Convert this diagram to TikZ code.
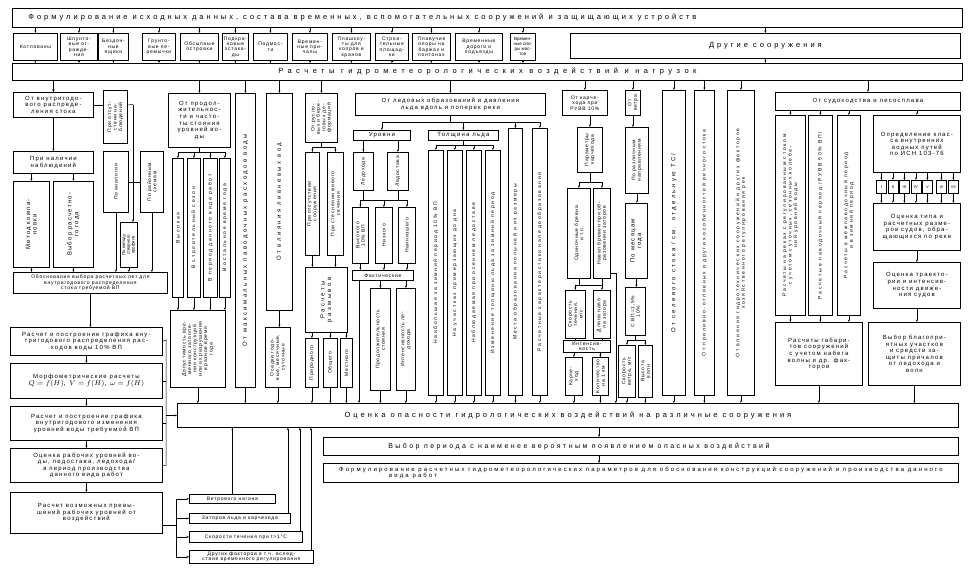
\documentclass[tikz,border=0pt]{standalone}
\usepackage{fontspec}
\setmainfont{Liberation Sans}
\usetikzlibrary{arrows.meta}

\begin{document}
\begin{tikzpicture}[x=1pt, y=-1pt,
  box/.style={draw, line width=0.8pt, inner sep=0.5pt, align=center, font=\fontsize{5}{5.4}\selectfont\addfontfeature{LetterSpace=15}},
  hbx/.style={box, anchor=north west},
  vbox/.style={box, rotate=90, anchor=north east},
  big/.style={font=\fontsize{6}{6.6}\selectfont\addfontfeature{LetterSpace=20}},
  tall/.style={font=\fontsize{5}{5.5}\selectfont\addfontfeature{LetterSpace=35}},
  tallbig/.style={font=\fontsize{6}{6.6}\selectfont\addfontfeature{LetterSpace=40}},
  wide/.style={hbx, font=\fontsize{7.5}{8.5}\selectfont\addfontfeature{LetterSpace=40}},
  arr/.style={-{Stealth[length=2.5pt,width=2pt]}, line width=0.5pt},
  ln/.style={line width=0.5pt}]
\useasboundingbox (0,0) rectangle (970,570);

% heading rows
\node[wide, minimum width=950, minimum height=19] (top) at (12,8) {Формулирование исходных данных, состава временных, вспомогательных сооружений и защищающих устройств\hspace*{250pt}};
\node[hbx, minimum width=44, minimum height=27] (kotl) at (13,33) {Котлованы};
\node[hbx, minimum width=37, minimum height=27] (shpun) at (60,33) {Шпунто-\\вые ог-\\ражде-\\ния};
\node[hbx, minimum width=30, minimum height=27] (bezd) at (98,33) {Бездон-\\ные\\ящики};
\node[hbx, minimum width=33, minimum height=27] (grun) at (142,33) {Грунто-\\вые пе-\\ремычки};
\node[hbx, minimum width=38, minimum height=27] (ostr) at (180,33) {Обсыпные\\островки};
\node[hbx, minimum width=26, minimum height=27] (estak) at (222,33) {Подкра-\\новые\\эстака-\\ды};
\node[hbx, minimum width=34, minimum height=27] (podm) at (253,33) {Подмос-\\ти};
\node[hbx, minimum width=35, minimum height=27] (prich) at (292,33) {Времен-\\ные при-\\чалы};
\node[hbx, minimum width=38, minimum height=27] (plash) at (332,33) {Плашкоу-\\ты для\\копров и\\кранов};
\node[hbx, minimum width=33, minimum height=27] (plosh) at (375,33) {Строи-\\тельные\\площад-\\ки};
\node[hbx, minimum width=38, minimum height=27] (plav) at (412,33) {Плавучие\\опоры на\\баржах и\\понтонах};
\node[hbx, minimum width=47, minimum height=27] (dorog) at (455,33) {Временные\\дороги и\\подъезды};
\node[hbx, minimum width=25, minimum height=27, font=\fontsize{4.5}{5}\selectfont] (most) at (510,33) {Времен-\\ные опо-\\ры мос-\\тов};
\node[wide, minimum width=390, minimum height=25] (drug) at (570,33) {Другие сооружения};
\node[wide, font=\fontsize{7.5}{8.5}\selectfont\addfontfeature{LetterSpace=60}, minimum width=950, minimum height=17] (rasch) at (12,63) {Расчеты гидрометеорологических воздействий и нагрузок};
\foreach \n in {kotl,shpun,bezd,grun,ostr,estak,podm,prich,plash,plosh,plav,dorog,most,drug} {
  \draw[arr] (top.south -| \n.north) -- (\n.north);
  \draw[arr] (\n.south) -- (\n.south |- rasch.north);
}

% left column
\node[hbx, big, minimum width=80, minimum height=25] (vnutr) at (13,92) {От внутригодо-\\вого распреде-\\ления стока};
\node[vbox, minimum width=53, minimum height=24] (otsut) at (103,90) {При отсут-\\ствии на-\\блюдений};
\node[hbx, big, minimum width=80, minimum height=22] (nalich) at (13,151) {При наличии\\наблюдений};
\node[vbox, big, minimum width=86, minimum height=36] (komp) at (13,181) {Метод компа-\\новки};
\node[vbox, big, minimum width=86, minimum height=40] (vybgod) at (53,181) {Выбор расчетно-\\го года};
\node[vbox, minimum width=61, minimum height=25] (analog) at (103,151) {По аналогии};
\node[vbox, minimum width=61, minimum height=23] (rayon) at (140,151) {По районным\\схемам};
\node[vbox, minimum width=45, minimum height=17, font=\fontsize{4.3}{4.8}\selectfont] (stvor) at (120,222) {По методу\\створного\\профиля};
\node[hbx, minimum width=154, minimum height=21] (obosn) at (13,272) {Обоснование выбора расчетных лет для\\внутригодового распределения\\стока требуемой ВП};
\node[hbx, big, minimum width=152, minimum height=28] (graf1) at (10,327) {Расчет и построение графика вну-\\тригодового распределения рас-\\ходов воды 10\% ВП};
\node[hbx, big, minimum width=152, minimum height=35] (morf) at (10,363) {Морфометрические расчеты\\{\fontsize{7.5}{9}\selectfont $Q=f(H)$, $V=f(H)$, $\omega=f(H)$}};
\node[hbx, big, minimum width=152, minimum height=34] (graf2) at (10,406) {Расчет и построение графика\\внутригодового изменения\\уровней воды требуемой ВП};
\node[hbx, big, minimum width=152, minimum height=34] (rabur) at (10,448) {Оценка рабочих уровней во-\\ды, ледостава, ледохода/\\в период производства\\данного вида работ};
\node[hbx, big, minimum width=152, minimum height=41] (prev) at (10,492) {Расчет возможных превы-\\шений рабочих уровней от\\воздействий};
\draw[arr] (rasch.south -| vnutr.north) -- (vnutr.north);
\draw[arr] (vnutr.south) -- (nalich.north);
\coordinate (br) at (133,104.5);
\draw[ln] (vnutr.east) -- (vnutr.east -| otsut.north);
\draw[ln] (vnutr.east -| otsut.south) -- (br);
\draw[arr] (br) -- (br |- stvor.east);
\draw[ln] (analog.south) -- (rayon.north);
\draw[arr] (nalich.south -| komp.east) -- (komp.east);
\draw[arr] (nalich.south -| vybgod.east) -- (vybgod.east);
\foreach \n in {komp,vybgod,analog,rayon,stvor}
  \draw[arr] (\n.west) -- (\n.west |- obosn.north);
\draw[arr] (obosn.south) -- (obosn.south |- graf1.north);
\draw[arr] (graf1.south) -- (morf.north);
\draw[arr] (morf.south) -- (graf2.north);
\draw[arr] (graf2.south) -- (rabur.north);
\draw[arr] (rabur.south) -- (prev.north);

% middle columns
\node[hbx, big, minimum width=62, minimum height=54] (prod) at (168,93) {От продол-\\жительнос-\\ти и часто-\\ты стояния\\уровней во-\\ды};
\node[vbox, tall, minimum width=139, minimum height=11] (vys) at (172,158) {Высокая};
\node[vbox, tall, minimum width=139, minimum height=13] (strs) at (187,158) {В строительный сезон};
\node[vbox, tall, minimum width=139, minimum height=14] (perr) at (203,158) {В период данного вида работ};
\node[vbox, tall, minimum width=139, minimum height=11] (ostv) at (219,158) {В остальное время года};
\node[vbox, minimum width=77, minimum height=55] (dopus) at (170,310) {Допустимость вре-\\менного затопле-\\ния конструкций\\или их разрушения\\в разное время\\года};
\node[vbox, tallbig, minimum width=294, minimum height=20] (pavod) at (235,93) {От максимальных паводочных расходов воды};
\node[vbox, tallbig, minimum width=217, minimum height=26] (livn) at (266,93) {От влияния ливневых вод};
\node[vbox, minimum width=60, minimum height=25] (osad) at (265,327) {Осадки годо-\\вые, месячные,\\суточные};
\node[vbox, minimum width=49, minimum height=32] (rusl) at (305,93) {От русло-\\вых и бере-\\говых де-\\формаций};
\node[vbox, minimum width=103, minimum height=14] (bezs) at (305,152) {При отсутствии\\сооружения};
\node[vbox, minimum width=103, minimum height=16] (stes) at (327,152) {При стеснении живого\\сечения};
\node[vbox, tallbig, minimum width=65, minimum height=42] (razm) at (305,267) {Расчеты\\размывов};
\node[vbox, minimum width=49, minimum height=13] (prir) at (305,338) {Природного};
\node[vbox, minimum width=49, minimum height=14] (obsh) at (323,338) {Общего};
\node[vbox, minimum width=49, minimum height=12] (mest) at (340,338) {Местного};
\path ([yshift=6pt]vys.east) coordinate (s1) ([yshift=6pt]ostv.east) coordinate (s2);
\draw[ln] (prod.south) -- (prod.south |- s1);
\draw[ln] (s1) -- (s2);
\foreach \n in {vys,strs,perr,ostv} {
  \draw[arr] (s1 -| \n.east) -- (\n.east);
  \draw[arr] (\n.west) -- (\n.west |- dopus.east);
}
\draw[arr] (livn.west) -- (livn.west |- osad.east);
\path ([yshift=5pt]bezs.east) coordinate (s3);
\draw[ln] (rusl.west) -- (rusl.west |- s3);
\draw[ln] (s3) -- (s3 -| stes.east);
\foreach \n in {bezs,stes} {
  \draw[arr] (s3 -| \n.east) -- (\n.east);
  \draw[arr] (\n.west) -- (\n.west |- razm.east);
}
\foreach \n in {prir,obsh,mest}
  \draw[arr] (razm.west -| \n.east) -- (\n.east);

% ice
\node[hbx, big, minimum width=190, minimum height=22] (led) at (355,93) {От ледовых образований и давления\\льда вдоль и поперек реки};
\node[hbx, big, minimum width=57, minimum height=10] (urov) at (353,130) {Уровни};
\node[hbx, big, minimum width=70, minimum height=10] (tol) at (428,130) {Толщина льда};
\node[vbox, tall, minimum width=267, minimum height=14] (polyn) at (508,128) {Места образования полыней и их размеры};
\node[vbox, tall, minimum width=267, minimum height=15] (naled) at (532,128) {Расчетные характеристики наледеобразования};
\node[vbox, minimum width=38, minimum height=20] (ledh) at (353,152) {Ледохода};
\node[vbox, minimum width=38, minimum height=21] (ledst) at (387,152) {Ледостава};
\node[vbox, minimum width=56, minimum height=16] (vysok) at (352,207) {Высокого\\10\% ВП};
\node[vbox, minimum width=56, minimum height=17] (nizk) at (375,207) {Низкого};
\node[vbox, minimum width=56, minimum height=17] (nainiz) at (398,207) {Наинизшего};
\node[hbx, minimum width=61, minimum height=10] (fakt) at (352,270) {Фактические};
\node[vbox, minimum width=102, minimum height=20] (prodst) at (370,288) {Продолжительность\\стояния};
\node[vbox, minimum width=102, minimum height=19] (intled) at (396,288) {Интенсивность ле-\\дохода};
\node[vbox, tall, minimum width=245, minimum height=15] (naib) at (428,150) {Наибольшая за зимний период 10\% ВП};
\node[vbox, tall, minimum width=245, minimum height=15] (uchast) at (447,150) {На участках промерзающих до дна};
\node[vbox, tall, minimum width=245, minimum height=15] (nabl) at (466,150) {Наблюдаемая при осеннем ледоставе};
\node[vbox, tall, minimum width=245, minimum height=15] (izm) at (485,150) {Изменение толщины льда за зимний период};
\path ([yshift=8pt]urov.north) coordinate (s5);
\draw[ln] (led.south) -- (led.south |- s5);
\draw[ln] (s5) -- (s5 -| naled.east);
\draw[arr] (s5) -- (urov.north);
\draw[arr] (s5 -| tol.north) -- (tol.north);
\draw[arr] (s5 -| polyn.east) -- (polyn.east);
\draw[arr] (s5 -| naled.east) -- (naled.east);
\draw[arr] (urov.south -| ledh.east) -- (ledh.east);
\draw[arr] (urov.south -| ledst.east) -- (ledst.east);
\path ([yshift=7pt]vysok.east) coordinate (s6);
\draw[ln] (ledh.west) -- (ledh.west |- s6);
\draw[ln] (ledst.west) -- (ledst.west |- s6);
\draw[ln] (s6) -- (s6 -| nainiz.east);
\foreach \n in {vysok,nizk,nainiz} {
  \draw[arr] (s6 -| \n.east) -- (\n.east);
  \draw[arr] (\n.west) -- (\n.west |- fakt.north);
}
\draw[arr] (fakt.south -| prodst.east) -- (prodst.east);
\draw[arr] (fakt.south -| intled.east) -- (intled.east);
\path ([yshift=5pt]naib.east) coordinate (s7);
\draw[ln] (tol.south) -- (tol.south |- s7);
\draw[ln] (s7) -- (s7 -| izm.east);
\foreach \n in {naib,uchast,nabl,izm}
  \draw[arr] (s7 -| \n.east) -- (\n.east);

% drift wood, wind
\node[hbx, minimum width=45, minimum height=25] (karch) at (562,90) {От карче-\\хода при\\РУВВ 10\%};
\node[vbox, minimum width=45, minimum height=25] (parkar) at (577,127) {Параметры\\карчехода};
\node[vbox, minimum width=90, minimum height=23] (odin) at (567,188) {Одиночные бревна\\и т.п.};
\node[vbox, minimum width=90, minimum height=17] (naval) at (593,188) {Навал бревен при об-\\разовании заторов};
\node[vbox, minimum width=48, minimum height=20] (skort) at (565,290) {Скорость\\течения,\\м/с};
\node[vbox, minimum width=48, minimum height=17] (dlin) at (593,290) {Длина нава-\\ла затора};
\node[hbx, minimum width=47, minimum height=12] (intkar) at (563,340) {Интенсив-\\ность};
\node[vbox, minimum width=38, minimum height=17] (karv) at (565,357) {Карче-\\ход};
\node[vbox, minimum width=38, minimum height=16] (kol) at (592,357) {Количество\\на 1 км};
\draw[arr] (karch.south -| parkar.east) -- (parkar.east);
\path ([yshift=6pt]odin.east) coordinate (s8);
\draw[ln] (parkar.west) -- (parkar.west |- s8);
\draw[ln] (s8) -- (s8 -| naval.east);
\draw[arr] (s8) -- (odin.east);
\draw[arr] (s8 -| naval.east) -- (naval.east);
\path ([yshift=5pt]skort.east) coordinate (s9);
\draw[ln] (odin.west) -- (odin.west |- s9);
\draw[ln] (naval.west) -- (naval.west |- s9);
\draw[ln] (s9) -- (s9 -| dlin.east);
\draw[arr] (s9) -- (skort.east);
\draw[arr] (s9 -| dlin.east) -- (dlin.east);
\draw[ln] (skort.west) -- (skort.west |- intkar.north);
\draw[ln] (dlin.west) -- (dlin.west |- intkar.north);
\draw[arr] (intkar.south -| karv.east) -- (karv.east);
\draw[arr] (intkar.south -| kol.east) -- (kol.east);
\path ([xshift=5pt]naval.south west) coordinate (s10);
\node[vbox, minimum width=25, minimum height=15] (veter) at (625,90) {От\\ветра};
\node[vbox, minimum width=66, minimum height=23] (napr) at (625,127) {По различным\\направлениям};
\node[vbox, big, minimum width=75, minimum height=22] (mes) at (625,203) {По месяцам\\года};
\node[vbox, minimum width=48, minimum height=20] (vp) at (625,287) {С ВП=1,5\%\\10\%};
\node[vbox, minimum width=52, minimum height=17] (skv) at (618,345) {Скорость\\ветра, м/с};
\node[vbox, minimum width=52, minimum height=14] (vyv) at (638,345) {Высота\\волн};
\draw[arr] (veter.west) -- (veter.west |- napr.east);
\draw[arr] (napr.west) -- (napr.west |- mes.east);
\draw[arr] (mes.west) -- (mes.west |- vp.east);
\path ([yshift=5pt]skv.east) coordinate (s11);
\draw[ln] (vp.west) -- (vp.west |- s11);
\draw[ln] (s11) -- (s11 -| vyv.east);
\draw[arr] (s11) -- (skv.east);
\draw[arr] (s11 -| vyv.east) -- (vyv.east);
\node[vbox, tallbig, minimum width=305, minimum height=23] (sel) at (662,90) {От селевого стока /см. отдельную ТС/};
\node[vbox, tall, minimum width=305, minimum height=20] (prili) at (694,90) {От приливно-отливных и других особенностей речного стока};
\node[vbox, tall, minimum width=305, minimum height=27] (gidr) at (727,90) {От влияния гидротехнических сооружений и других факторов\\хозяйственного регулирования рек};

% navigation
\node[hbx, big, minimum width=185, minimum height=18] (sud) at (775,92) {От судоходства и лесосплава};
\node[vbox, tall, minimum width=200, minimum height=30] (regst) at (775,115) {Расчеты на реках с регулированным стоком\\с учетом суточных, сезонных колеба-\\ний уровней воды};
\node[vbox, tall, minimum width=200, minimum height=24] (pavp) at (808,115) {Расчеты в паводочный период /РУВВ 50\% ВП/};
\node[vbox, tall, minimum width=200, minimum height=23] (mezh) at (837,115) {Расчеты в межпаводочный период\\и в зимний период};
\node[hbx, big, minimum width=87, minimum height=57] (klass) at (873,115) {Определение клас-\\са внутренних\\водных путей\\по ИСН 103-76};
\node[hbx, big, minimum width=87, minimum height=47] (tip) at (873,203) {Оценка типа и\\расчетных разме-\\ров судов, обра-\\щающихся по реке};
\node[hbx, big, minimum width=87, minimum height=46] (traek) at (873,262) {Оценка траекто-\\рии и интенсив-\\ности движе-\\ния судов};
\node[hbx, big, minimum width=87, minimum height=63] (gabar) at (775,322) {Расчеты габари-\\тов сооружений\\с учетом набега\\волны и др. фак-\\торов};
\node[hbx, big, minimum width=92, minimum height=63] (blag) at (868,322) {Выбор благопри-\\ятных участков\\и средств за-\\щиты причалов\\от ледохода и\\волн};
\foreach \i/\t/\x in {1/I/876,2/II/887.5,3/III/899,4/IV/910.5,5/V/922,6/VI/936,7/VII/948} {
  \node[hbx, minimum width=10, minimum height=13, font=\fontsize{4}{4}\selectfont] (cl\i) at (\x,180) {\t};
  \draw[arr] (klass.south -| cl\i.north) -- (cl\i.north);
  \draw[arr] (cl\i.south) -- (cl\i.south |- tip.north);
}
\foreach \n in {regst,pavp,mezh} {
  \draw[arr] (sud.south -| \n.east) -- (\n.east);
  \draw[arr] (\n.west) -- (\n.west |- gabar.north);
}
\draw[arr] (sud.south -| klass.north) -- (klass.north);
\draw[arr] (tip.south) -- (traek.north);
\draw[arr] (traek.south) -- (blag.north -| traek.south);

% bottom rows
\node[wide, minimum width=781, minimum height=24] (ocen) at (177,403) {Оценка опасности гидрологических воздействий на различные сооружения};
\node[wide, font=\fontsize{7}{8}\selectfont\addfontfeature{LetterSpace=35}, minimum width=635, minimum height=18] (vybper) at (323,437) {Выбор периода с наименее вероятным появлением опасных воздействий\hspace*{124pt}};
\node[hbx, font=\fontsize{6}{6.6}\selectfont\addfontfeature{LetterSpace=35}, minimum width=635, minimum height=19, align=left] (form) at (323,463) {Формулирование расчетных гидрометеорологических параметров для обоснования конструкций сооружений и производства данного\\\hspace*{50pt}вида работ};
\node[hbx, minimum width=86, minimum height=9] (nagon) at (189,494) {Ветрового нагона};
\node[hbx, minimum width=101, minimum height=10] (zator) at (189,513) {Заторов льда и карчехода};
\node[hbx, minimum width=113, minimum height=11] (skor) at (189,531) {Скорости течения при t\,>\,1\,°C};
\node[hbx, minimum width=124, minimum height=13] (drf) at (189,550) {Других факторов в т.ч. вслед-\\ствие временного регулирования};

% connectors to the assessment
\foreach \n in {vnutr,prod,led,karch,sud}
  \draw[arr] (rasch.south -| \n.north) -- (\n.north);
\foreach \n in {pavod,livn,rusl,veter,sel,prili,gidr}
  \draw[arr] (rasch.south -| \n.east) -- (\n.east);
\foreach \n in {dopus,pavod,osad,prir,obsh,mest,prodst,intled,naib,uchast,nabl,izm,polyn,naled,karv,kol,skv,vyv,sel,prili,gidr}
  \draw[arr] (\n.west) -- (\n.west |- ocen.north);
\foreach \n in {gabar,blag}
  \draw[arr] (\n.south) -- (\n.south |- ocen.north);
\draw[arr] ([xshift=7pt]fakt.south west) -- ([xshift=7pt]fakt.south west |- ocen.north);
\draw[arr] ([yshift=6pt]naval.south west) -| (s10 |- ocen.north);
\coordinate (bus) at (166,340);
\draw[ln] (graf1.east) -- (bus) -- (bus |- rabur.east) -- (rabur.east);
\draw[ln] (morf.east) -- (morf.east -| bus);
\draw[ln] (graf2.east) -- (graf2.east -| bus);
\draw[arr] (ocen.west -| bus) -- (ocen.west);
\coordinate (bus2) at (176,525);
\draw[ln] (prev.east |- bus2) -- (bus2);
\draw[ln] (bus2 |- nagon.west) -- (bus2 |- drf.west);
\foreach \n in {nagon,zator,skor,drf}
  \draw[arr] (bus2 |- \n.west) -- (\n.west);
\draw[arr] (nagon.north) -- (nagon.north |- ocen.south);
\draw[arr] ([xshift=-3pt]zator.north east) -- ([xshift=-3pt]zator.north east |- ocen.south);
\draw[arr] ([xshift=-3pt]skor.north east) -- ([xshift=-3pt]skor.north east |- ocen.south);
\draw[arr] ([xshift=-3pt]drf.north east) -- ([xshift=-3pt]drf.north east |- ocen.south);
\coordinate (mid) at (599,0);
\draw[arr] (ocen.south -| mid) -- (vybper.north -| mid);
\draw[arr] (vybper.south -| mid) -- (form.north -| mid);
\end{tikzpicture}
\end{document}
